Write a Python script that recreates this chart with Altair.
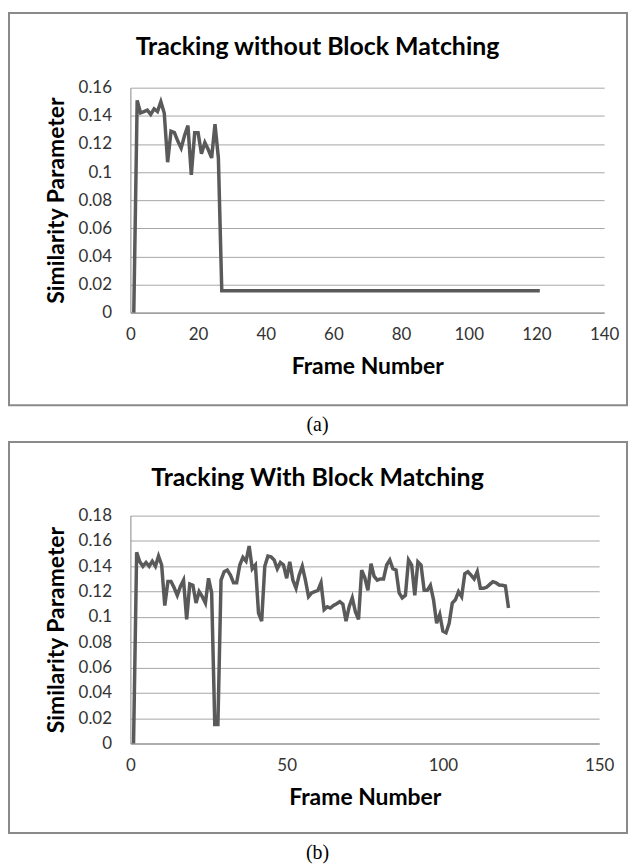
import altair as alt
import pandas as pd

# ---------------- data ----------------
frames_a = list(range(1, 28)) + [121]
values_a = [0, 0.151, 0.142, 0.143, 0.144, 0.141, 0.145, 0.143, 0.150, 0.142,
            0.107, 0.129, 0.128, 0.122, 0.117, 0.126, 0.133, 0.098, 0.128, 0.128,
            0.113, 0.121, 0.116, 0.110, 0.134, 0.110, 0.0155,
            0.0155]

values_b = [0, 0.151, 0.1435, 0.140, 0.143, 0.140, 0.144, 0.140, 0.148, 0.141,
            0.109, 0.128, 0.128, 0.123, 0.117, 0.124, 0.129, 0.098, 0.126, 0.125,
            0.111, 0.120, 0.116, 0.111, 0.1305, 0.119, 0.015, 0.015, 0.129, 0.1357,
            0.137, 0.133, 0.127, 0.127, 0.141, 0.147, 0.144, 0.156, 0.138, 0.141,
            0.103, 0.0966, 0.140, 0.148, 0.1475, 0.145, 0.138, 0.143, 0.141, 0.1305,
            0.1435, 0.129, 0.1227, 0.133, 0.140, 0.129, 0.116, 0.119, 0.120, 0.121,
            0.127, 0.1057, 0.108, 0.107, 0.109, 0.1104, 0.112, 0.110, 0.0966, 0.108,
            0.115, 0.104, 0.098, 0.137, 0.131, 0.121, 0.142, 0.132, 0.129, 0.130,
            0.130, 0.141, 0.145, 0.138, 0.137, 0.119, 0.115, 0.117, 0.145, 0.141,
            0.117, 0.1435, 0.141, 0.121, 0.121, 0.125, 0.1135, 0.095, 0.102, 0.0887,
            0.0874, 0.095, 0.111, 0.1135, 0.120, 0.116, 0.134, 0.1357, 0.133, 0.130,
            0.1357, 0.1226, 0.1226, 0.1234, 0.1257, 0.1278, 0.127, 0.1252, 0.125, 0.1244,
            0.107]
frames_b = list(range(1, len(values_b) + 1))

xticks_a = [0, 20, 40, 60, 80, 100, 120, 140]
xticks_b = [0, 50, 100, 150]
yticks_a = [0, 0.02, 0.04, 0.06, 0.08, 0.1, 0.12, 0.14, 0.16]
yticks_b = [0, 0.02, 0.04, 0.06, 0.08, 0.1, 0.12, 0.14, 0.16, 0.18]

title_a = "Tracking without Block Matching"
title_b = "Tracking With Block Matching"
x_title = "Frame Number"
y_title = "Similarity Parameter"

FONT = "Lato"


def panel(frames, values, xmax, xticks, ymax, yticks, width, height,
          title, caption, box, title_xy, cap_xy):
    df = pd.DataFrame({"Frame": frames, "Value": values})
    one = pd.DataFrame({"k": [0]})
    line = alt.Chart(df).mark_line(color="#5a5a5a", strokeWidth=3.5).encode(
        x=alt.X("Frame:Q",
                scale=alt.Scale(domain=[0, xmax], nice=False, zero=True),
                axis=alt.Axis(values=xticks, title=x_title, grid=False,
                              ticks=False, labelPadding=14, titlePadding=13,
                              labelFlush=False, format="d")),
        y=alt.Y("Value:Q",
                scale=alt.Scale(domain=[0, ymax], nice=False),
                axis=alt.Axis(values=yticks, title=y_title, grid=True,
                              ticks=False, labelPadding=19, titlePadding=10,
                              labelFlush=False, format="~g")),
    )
    border = alt.Chart(one).mark_rect(
        fillOpacity=0, stroke="#8a8a8a", strokeWidth=2
    ).encode(x=alt.value(box[0]), x2=alt.value(box[1]),
             y=alt.value(box[2]), y2=alt.value(box[3]))
    ttl = alt.Chart(one).mark_text(
        text=title, font=FONT, fontSize=25, fontWeight="bold", color="#000000",
        align="center", baseline="middle"
    ).encode(x=alt.value(title_xy[0]), y=alt.value(title_xy[1]))
    cap = alt.Chart(one).mark_text(
        text=caption, font="Liberation Serif", fontSize=20, color="#000000",
        align="center", baseline="middle"
    ).encode(x=alt.value(cap_xy[0]), y=alt.value(cap_xy[1]))
    return alt.layer(border, line, ttl, cap).properties(width=width, height=height)


chart_a = panel(frames_a, values_a, 140, xticks_a, 0.16, yticks_a, 476, 226,
                title_a, "(a)", (-122, 499, -75, 319), (188, -41), (188, 339))
chart_b = panel(frames_b, values_b, 150, xticks_b, 0.18, yticks_b, 471, 229,
                title_b, "(b)", (-122, 499, -74, 319), (188, -38), (188, 339))

chart = alt.vconcat(chart_a, chart_b, spacing=204, bounds="flush").properties(
    padding={"left": 0, "top": 2, "right": 0, "bottom": 0}
).configure_view(strokeWidth=0).configure_axis(
    domainColor="#868686",
    domainWidth=1,
    gridColor="#a6a6a6",
    gridWidth=1,
    labelFont=FONT,
    labelFontSize=17,
    labelColor="#333333",
    titleFont=FONT,
    titleFontSize=23,
    titleFontWeight="bold",
    titleColor="#000000",
)

chart.save("out.html", embed_options={"renderer": "svg", "actions": False})
